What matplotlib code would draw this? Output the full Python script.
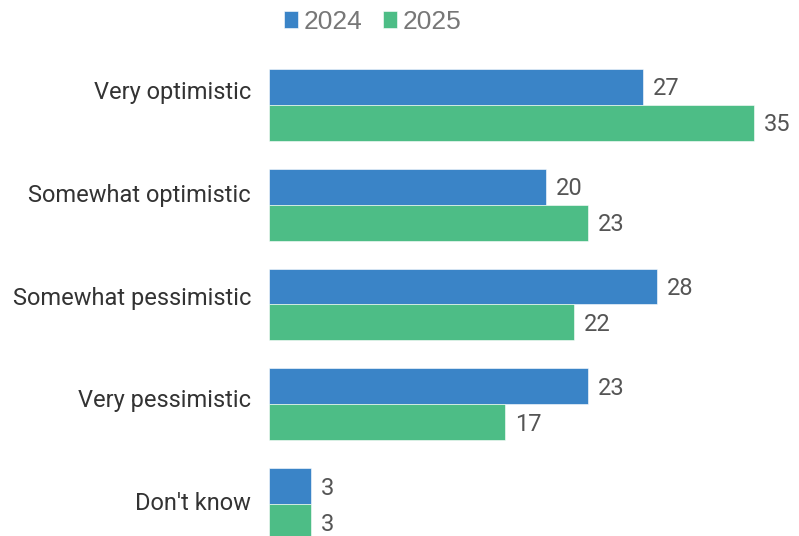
import matplotlib
matplotlib.use("Agg")
import matplotlib.pyplot as plt
import numpy as np

categories = ["Very optimistic", "Somewhat optimistic", "Somewhat pessimistic",
              "Very pessimistic", "Don't know"]
series_names = ["2024", "2025"]
values_2024 = [27, 20, 28, 23, 3]
values_2025 = [35, 23, 22, 17, 3]
colors = ["#3a84c7", "#4dbd86"]

plt.rcParams["font.family"] = ["Roboto", "DejaVu Sans"]

W, H = 799, 536
fig = plt.figure(figsize=(W / 100, H / 100), dpi=100)
left_px, right_px, top_px, bottom_px = 269, 768, 55, 536
ax = fig.add_axes([left_px / W, 1 - bottom_px / H,
                   (right_px - left_px) / W, (bottom_px - top_px) / H])

y = np.arange(len(categories))
bh = 0.36
bars_a = ax.barh(y - bh / 2, values_2024, height=bh, color=colors[0],
                 edgecolor="white", linewidth=0.4, label=series_names[0])
bars_b = ax.barh(y + bh / 2, values_2025, height=bh, color=colors[1],
                 edgecolor="white", linewidth=0.4, label=series_names[1])

for bars, vals in ((bars_a, values_2024), (bars_b, values_2025)):
    for b, v in zip(bars, vals):
        ax.annotate(f"{v}", (v, b.get_y() + b.get_height() / 2),
                    xytext=(10, -2), textcoords="offset pixels",
                    va="center", ha="left", fontsize=17, color="#555555")

ax.set_xlim(0, 36)
ax.set_ylim(4.32, -0.5)
ax.set_xticks([])
ax.set_yticks([])
for s in ax.spines.values():
    s.set_visible(False)

# category labels live on their own overlay axis with a slightly wider spacing
lab = fig.add_axes(ax.get_position(), frameon=False)
lab.set_xlim(0, 1)
lab.set_ylim(4.3406, -0.3406)
lab.set_xticks([])
lab.set_yticks(y)
lab.set_yticklabels(categories, fontsize=17, color="#333333")
lab.tick_params(axis="y", length=0, pad=13)

leg = fig.legend(handles=[bars_a, bars_b], labels=series_names,
                 loc="center", bbox_to_anchor=(372.5 / W, 1 - 22 / H),
                 ncol=2, frameon=False, fontsize=19, handlelength=0.53,
                 handleheight=0.6, handletextpad=0.22, columnspacing=0.76,
                 labelcolor="#777777", borderpad=0)
for t in leg.get_texts():
    t.set_family(["Liberation Sans", "DejaVu Sans"])

fig.savefig("out.png", dpi=100)
